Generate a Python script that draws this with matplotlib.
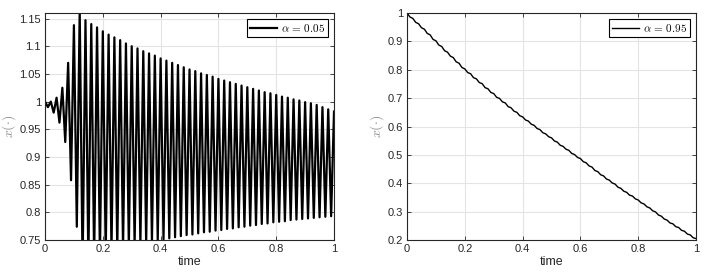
import matplotlib
matplotlib.use("Agg")
import matplotlib.pyplot as plt
from matplotlib.ticker import FuncFormatter

plt.rcParams["font.family"] = ["Liberation Sans", "DejaVu Sans"]
plt.rcParams["mathtext.fontset"] = "cm"

# time grid (step 0.01)
time = [round(i * 0.01, 2) for i in range(101)]

# alpha = 0.05 : zig-zag solution
x_alpha_005 = [
    1.000, 0.990, 1.000, 0.980, 1.007, 0.962, 1.025, 0.927, 1.070, 0.858,
    1.138, 0.774, 1.165, 0.700, 1.147, 0.710, 1.140, 0.715, 1.134, 0.720,
    1.127, 0.725, 1.121, 0.730, 1.116, 0.733, 1.111, 0.736, 1.105, 0.739,
    1.100, 0.741, 1.096, 0.743, 1.091, 0.745, 1.087, 0.747, 1.083, 0.7495,
    1.078, 0.751, 1.074, 0.753, 1.070, 0.755, 1.066, 0.757, 1.062, 0.759,
    1.058, 0.760, 1.055, 0.762, 1.051, 0.764, 1.048, 0.765, 1.045, 0.767,
    1.041, 0.768, 1.038, 0.770, 1.035, 0.771, 1.032, 0.773, 1.029, 0.774,
    1.026, 0.776, 1.023, 0.777, 1.020, 0.779, 1.017, 0.780, 1.015, 0.782,
    1.012, 0.783, 1.009, 0.784, 1.007, 0.786, 1.004, 0.787, 1.002, 0.788,
    0.999, 0.789, 0.997, 0.790, 0.994, 0.791, 0.990, 0.792, 0.986, 0.793,
    0.982,
]

# alpha = 0.95 : nearly linear staircase decay
x_alpha_095 = [
    1.000, 0.986, 0.981, 0.967, 0.962, 0.948, 0.943, 0.928, 0.923, 0.907,
    0.902, 0.887, 0.882, 0.867, 0.862, 0.848, 0.843, 0.828, 0.823, 0.808,
    0.803, 0.790, 0.786, 0.772, 0.768, 0.755, 0.751, 0.737, 0.733, 0.720,
    0.716, 0.703, 0.699, 0.687, 0.683, 0.670, 0.666, 0.654, 0.650, 0.638,
    0.634, 0.623, 0.619, 0.608, 0.604, 0.593, 0.589, 0.578, 0.574, 0.564,
    0.560, 0.549, 0.545, 0.534, 0.530, 0.520, 0.516, 0.505, 0.501, 0.491,
    0.487, 0.476, 0.472, 0.461, 0.457, 0.445, 0.441, 0.430, 0.426, 0.415,
    0.411, 0.401, 0.397, 0.386, 0.382, 0.372, 0.368, 0.358, 0.355, 0.345,
    0.341, 0.331, 0.327, 0.317, 0.313, 0.303, 0.299, 0.288, 0.284, 0.274,
    0.270, 0.260, 0.257, 0.247, 0.244, 0.234, 0.231, 0.221, 0.218, 0.208,
    0.205,
]

x_ticks = [0, 0.2, 0.4, 0.6, 0.8, 1.0]
y_ticks_left = [0.75, 0.8, 0.85, 0.9, 0.95, 1.0, 1.05, 1.1, 1.15]
y_ticks_right = [0.2, 0.3, 0.4, 0.5, 0.6, 0.7, 0.8, 0.9, 1.0]


def fmt(v, pos):
    return "%g" % round(v, 4)


def style_axes(ax, yticks, ylim):
    ax.set_xlim(0, 1)
    ax.set_ylim(*ylim)
    ax.set_xticks(x_ticks)
    ax.set_yticks(yticks)
    ax.xaxis.set_major_formatter(FuncFormatter(fmt))
    ax.yaxis.set_major_formatter(FuncFormatter(fmt))
    ax.grid(True, color="#e4e4e4", linewidth=0.8)
    ax.set_axisbelow(True)
    ax.tick_params(direction="in", top=True, right=True, length=3,
                   width=0.6, labelsize=8, colors="#262626", pad=3)
    for s in ax.spines.values():
        s.set_linewidth(0.8)
        s.set_color("#262626")
    ax.set_xlabel("time", fontsize=9, color="#262626", labelpad=1)
    ax.set_ylabel(r"$x(\cdot)$", fontsize=10, color="#8a8a8a", labelpad=1)


fig = plt.figure(figsize=(7.18, 2.72), dpi=100)
ax1 = fig.add_axes([0.0627, 0.1176, 0.4025, 0.8346])
ax2 = fig.add_axes([0.5669, 0.1176, 0.4025, 0.8346])

ax1.plot(time, x_alpha_005, color="black", linewidth=1.6,
         label=r"$\alpha\,=\,0.05$")
style_axes(ax1, y_ticks_left, (0.75, 1.16))

ax2.plot(time, x_alpha_095, color="black", linewidth=1.0,
         label=r"$\alpha\,=\,0.95$")
style_axes(ax2, y_ticks_right, (0.2, 1.0))

for ax in (ax1, ax2):
    leg = ax.legend(loc="upper right", fontsize=8, fancybox=False,
                    framealpha=1, edgecolor="black", handlelength=2.4,
                    borderpad=0.3, handletextpad=0.4, borderaxespad=0.5)
    leg.get_frame().set_linewidth(0.8)

fig.savefig("out.png", dpi=100)
